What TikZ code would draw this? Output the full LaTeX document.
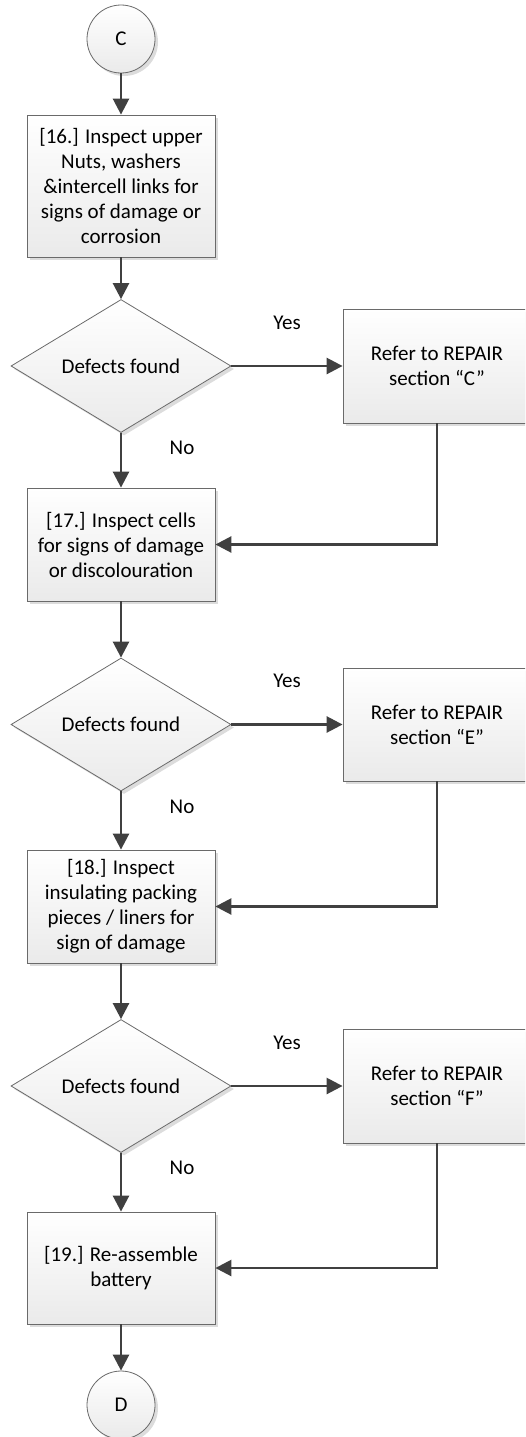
\documentclass[tikz,border=0pt]{standalone}
\usepackage{fontspec}
\setmainfont{Carlito}
\usetikzlibrary{arrows.meta,shapes.geometric,shadows}
\definecolor{linec}{HTML}{404040}
\definecolor{edgec}{HTML}{6A6A6A}
\definecolor{fillb}{HTML}{EAEAEA}
\definecolor{shad}{HTML}{DCDCDC}
\begin{document}
\begin{tikzpicture}[x=1pt,y=-1pt,
  font=\fontsize{21}{25}\selectfont,
  base/.style={draw=edgec, line width=0.8pt, top color=white, bottom color=fillb,
    drop shadow={shadow xshift=3pt, shadow yshift=-3pt, fill=shad, opacity=1},
    align=center, inner sep=0pt},
  procbox/.style={base, rectangle, minimum width=188pt, minimum height=#1},
  decbox/.style={base, diamond, aspect=1.65, minimum width=220pt, minimum height=133pt},
  termbox/.style={base, circle, minimum size=68pt},
  lbl/.style={inner sep=0pt},
  arr/.style={draw=linec, line width=2.6pt, -{Triangle[length=16pt,width=16pt]}}
]
\useasboundingbox (0,0) rectangle (525,1437);
\clip (0,0) rectangle (525,1437);

\node[termbox] (c) at (121,39) {C};
\node[procbox=142pt] (b16) at (121,186) {[16.] Inspect upper\\Nuts, washers\\\&intercell links for\\signs of damage or\\corrosion};
\node[decbox] (d1) at (121,366) {Defects found};
\node[procbox=114pt] (r1) at (437,366) {Refer to REPAIR\\section “C”};
\node[procbox=113pt] (b17) at (121,544.5) {[17.] Inspect cells\\for signs of damage\\or discolouration};
\node[decbox] (d2) at (121,724.5) {Defects found};
\node[procbox=113pt] (r2) at (437,724.5) {Refer to REPAIR\\section “E”};
\node[procbox=113pt] (b18) at (121,906.5) {[18.] Inspect\\insulating packing\\pieces / liners for\\sign of damage};
\node[decbox] (d3) at (121,1086) {Defects found};
\node[procbox=114pt] (r3) at (437,1086) {Refer to REPAIR\\section “F”};
\node[procbox=112pt] (b19) at (121,1268) {[19.] Re-assemble\\battery};
\node[termbox] (d) at (121,1405) {D};

\node[lbl] (y1) at (287,323) {Yes};
\node[lbl] (n1) at (182,448) {No};
\node[lbl] (y2) at (287,681) {Yes};
\node[lbl] (n2) at (182,807) {No};
\node[lbl] (y3) at (287,1043) {Yes};
\node[lbl] (n3) at (182,1168) {No};

\draw[arr] (c) -- (b16);
\draw[arr] (b16) -- (d1);
\draw[arr] (d1) -- (r1);
\draw[arr] (d1) -- (b17);
\draw[arr] (r1.south) |- (b17.east);
\draw[arr] (b17) -- (d2);
\draw[arr] (d2) -- (r2);
\draw[arr] (d2) -- (b18);
\draw[arr] (r2.south) |- (b18.east);
\draw[arr] (b18) -- (d3);
\draw[arr] (d3) -- (r3);
\draw[arr] (d3) -- (b19);
\draw[arr] (r3.south) |- (b19.east);
\draw[arr] (b19) -- (d);
\end{tikzpicture}
\end{document}
